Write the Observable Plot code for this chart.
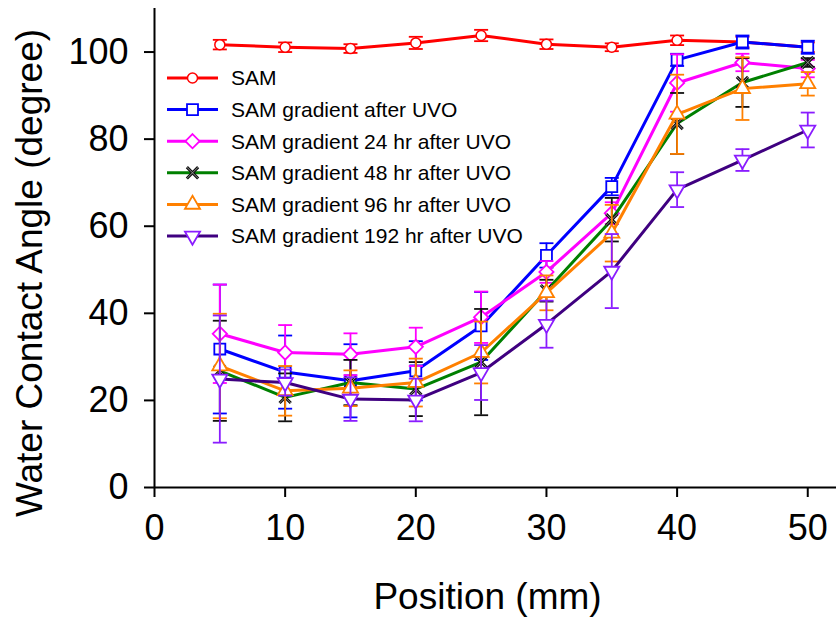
<!DOCTYPE html>
<html>
<head>
<meta charset="utf-8">
<script src="https://cdn.jsdelivr.net/npm/d3@7"></script>
<script src="https://cdn.jsdelivr.net/npm/@observablehq/plot@0.6"></script>
<style>
  html, body { margin: 0; padding: 0; background: #fff; }
  #chart { position: relative; width: 836px; height: 618px; }
</style>
</head>
<body>
<div id="chart"></div>
<script>
// ---- data ----
const positions = [5, 10, 15, 20, 25, 30, 35, 40, 45, 50];
const xTicks = [0, 10, 20, 30, 40, 50];
const yTicks = [0, 20, 40, 60, 80, 100];

const seriesNames = [
  "SAM",
  "SAM gradient after UVO",
  "SAM gradient 24 hr after UVO",
  "SAM gradient 48 hr after UVO",
  "SAM gradient 96 hr after UVO",
  "SAM gradient 192 hr after UVO"
];

const samValues      = [101.7, 101.1, 100.8, 102.1, 103.8, 101.8, 101.1, 102.7, 102.3, 101.1];
const samErrors      = [1.1, 1.1, 1.0, 1.4, 1.3, 1.1, 0.9, 1.1, 1.2, 1.1];
const uvoValues      = [31.8, 26.5, 24.5, 26.8, 37.1, 53.3, 69.1, 98.2, 102.3, 101.1];
const uvoErrors      = [14.8, 8.4, 8.4, 6.8, 7.8, 2.8, 2.0, 1.4, 1.5, 1.5];
const h24Values      = [35.3, 31.0, 30.6, 32.3, 39.1, 49.5, 63.0, 92.9, 97.6, 96.2];
const h24Errors      = [11.3, 6.3, 4.8, 4.4, 5.9, 2.5, 2.5, 6.6, 2.0, 2.0];
const h48Values      = [26.8, 20.7, 24.1, 22.6, 28.8, 45.2, 61.5, 83.6, 93.0, 97.6];
const h48Errors      = [11.5, 5.5, 5.2, 6.2, 12.2, 2.5, 5.0, 7.0, 5.6, 1.0];
const h96Values      = [27.9, 22.2, 22.8, 24.1, 31.0, 44.7, 58.4, 85.7, 91.6, 92.7];
const h96Errors      = [12.0, 5.7, 4.1, 5.5, 7.1, 4.0, 6.5, 9.1, 7.2, 2.7];
const h192Values     = [24.9, 24.1, 20.3, 20.1, 26.4, 37.5, 49.7, 68.4, 75.2, 82.1];
const h192Errors     = [14.6, 3.0, 5.0, 4.9, 6.3, 5.4, 8.5, 4.0, 2.5, 4.0];

const allValues = [samValues, uvoValues, h24Values, h48Values, h96Values, h192Values];
const allErrors = [samErrors, uvoErrors, h24Errors, h48Errors, h96Errors, h192Errors];

// ---- styles ----
const styles = [
  {line: "#ff0000", mark: "#ff0000", err: "#ff0000", symbol: "circle",   r: 5,   rotate: 0,   fill: "white", markWidth: 1.5},
  {line: "#0000ff", mark: "#0000ff", err: "#0000ff", symbol: "square",   r: 6.2, rotate: 0,   fill: "white", markWidth: 1.8},
  {line: "#ff00ff", mark: "#ff00ff", err: "#ff00ff", symbol: "diamond2", r: 6.4, rotate: 0,   fill: "white", markWidth: 1.8},
  {line: "#008000", mark: "#111111", err: "#111111", symbol: "times",    r: 5.2, rotate: 0,   fill: "none",  markWidth: 3},
  {line: "#ff8000", mark: "#ff8000", err: "#ff8000", symbol: "triangle", r: 5.6, rotate: 0,   fill: "white", markWidth: 1.8},
  {line: "#3f0080", mark: "#8a1cff", err: "#8a1cff", symbol: "triangle", r: 5.6, rotate: 180, fill: "white", markWidth: 1.8}
];

const cap = {draw(ctx) { ctx.moveTo(-7, 0); ctx.lineTo(7, 0); }};

const rows = [];
allValues.forEach((vals, s) => {
  vals.forEach((v, i) => rows.push({series: s, x: positions[i], y: v, lo: v - allErrors[s][i], hi: v + allErrors[s][i]}));
});

const marks = [
  Plot.ruleY([0], {strokeWidth: 2}),
  Plot.ruleX([0], {strokeWidth: 2}),
  Plot.axisX({ticks: xTicks, tickSize: 10, tickPadding: 17, strokeWidth: 2, fontSize: 36, label: null}),
  Plot.axisY({ticks: yTicks, tickSize: 10, tickPadding: 16, strokeWidth: 2, fontSize: 36, label: null}),
  Plot.text(["Water Contact Angle (degree)"], {frameAnchor: "left", textAnchor: "middle", lineAnchor: "middle", rotate: -90, dx: -124, dy: 25, fontSize: 37}),
  Plot.text(["Position (mm)"], {frameAnchor: "bottom", textAnchor: "middle", lineAnchor: "middle", dx: -8, dy: 110, fontSize: 37})
];

styles.forEach((st, s) => {
  const data = rows.filter(d => d.series === s);
  marks.push(
    Plot.line(data, {x: "x", y: "y", stroke: st.line, strokeWidth: 3}),
    Plot.ruleX(data, {x: "x", y1: "lo", y2: "hi", stroke: st.err, strokeWidth: 1.8}),
    Plot.dot(data, {x: "x", y: "lo", symbol: cap, stroke: st.err, fill: "none", strokeWidth: 1.8}),
    Plot.dot(data, {x: "x", y: "hi", symbol: cap, stroke: st.err, fill: "none", strokeWidth: 1.8}),
    Plot.dot(data, {x: "x", y: "y", symbol: st.symbol, r: st.r, rotate: st.rotate, stroke: st.mark, fill: st.fill, strokeWidth: st.markWidth})
  );
  if (st.symbol === "times") {
    marks.push(Plot.dot(data, {x: "x", y: "y", symbol: "times", r: st.r, stroke: "#aaaaaa", strokeWidth: 0.8}));
  }
});

const svg = Plot.plot({
  width: 836,
  height: 618,
  marginLeft: 154,
  marginRight: 0,
  marginTop: 8,
  marginBottom: 131,
  x: {domain: [0, 52.2]},
  y: {domain: [0, 110]},
  style: {fontFamily: "'Liberation Sans', Arial, sans-serif", color: "black", background: "white"},
  marks
});
document.getElementById("chart").appendChild(svg);

// ---- legend (inside the plot area, top-left) ----
const lg = d3.select(svg).append("g")
  .attr("transform", "translate(167,78)")
  .attr("text-anchor", "start")
  .style("font-family", "'Liberation Sans', Arial, sans-serif")
  .style("font-size", "21px");
const symMap = {circle: d3.symbolCircle, square: d3.symbolSquare, diamond2: d3.symbolDiamond2, times: d3.symbolTimes, triangle: d3.symbolTriangle};
styles.forEach((st, s) => {
  const g = lg.append("g").attr("transform", `translate(0,${s * 31.6})`);
  g.append("line").attr("x1", 0).attr("x2", 51).attr("stroke", st.line).attr("stroke-width", 3);
  const path = d3.symbol(symMap[st.symbol], Math.PI * st.r * st.r)();
  g.append("path").attr("d", path)
    .attr("transform", `translate(25.5,0) rotate(${st.rotate})`)
    .attr("fill", st.fill).attr("stroke", st.mark).attr("stroke-width", st.markWidth);
  if (st.symbol === "times") {
    g.append("path").attr("d", path).attr("transform", "translate(25.5,0)")
      .attr("fill", "none").attr("stroke", "#aaaaaa").attr("stroke-width", 0.8);
  }
  g.append("text").attr("x", 64).attr("dy", "0.35em").attr("fill", "black").attr("text-anchor", "start").text(seriesNames[s]);
});
</script>
</body>
</html>
